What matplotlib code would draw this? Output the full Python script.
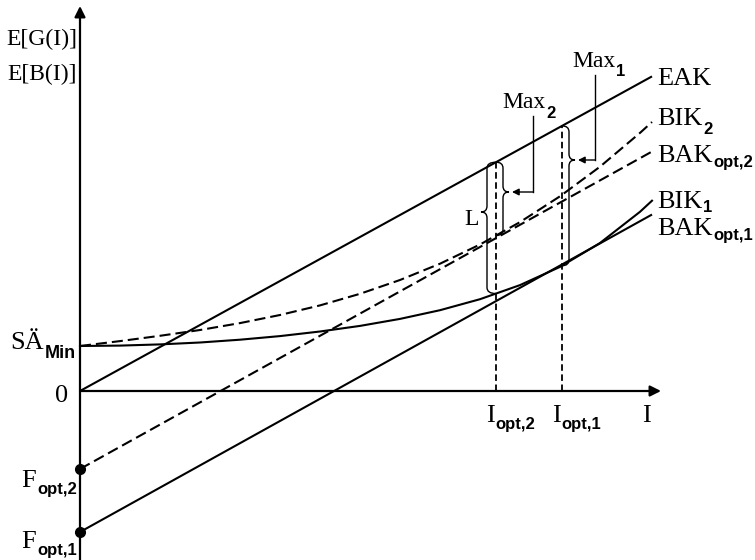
import numpy as np
import matplotlib
matplotlib.use('Agg')
import matplotlib.pyplot as plt
from matplotlib.path import Path
from matplotlib.patches import PathPatch

# ---------------- data (abstract units) ----------------
sa_min = 45            # SÄ_Min : starting level of both BIK curves
f_opt_1 = -141         # F_opt,1 : intercept of BAK_opt,1
f_opt_2 = -78          # F_opt,2 : intercept of BAK_opt,2
eak_slope = 0.55       # EAK through the origin
bak_slope = 0.555      # BAK_opt lines (parallel to EAK)
i_opt_1 = 482
i_opt_2 = 416
i_max = 572

curve_x = [0, 40, 80, 120, 160, 200, 240, 280, 320, 360, 400, 440, 480, 520, 560, 572]
bik1_y = [45, 45.4, 46.6, 48.5, 51.3, 54.9, 59.5, 65.1, 72.1, 80.8, 91.8, 105.9, 124.1, 148.0, 179.2, 190.3]
bik2_y = [45, 49.9, 55.2, 61.0, 67.9, 76.0, 85.6, 97.2, 111.0, 127.3, 146.5, 168.9, 194.7, 224.3, 258.1, 269.0]

# ---------------- figure (1 data unit = 1 pixel) ----------------
W, H = 755, 560
OX, OY = 80, 391          # pixel position of the origin (from top-left)
fig = plt.figure(figsize=(W / 100, H / 100), dpi=100)
ax = fig.add_axes([0, 0, 1, 1])
ax.set_xlim(-OX, W - OX)
ax.set_ylim(OY - H, OY)
ax.axis('off')

SERIF = ['Liberation Serif', 'DejaVu Serif']
SANS = ['Liberation Sans', 'DejaVu Sans']
K = 'black'


def P(px, py):
    return px - OX, OY - py


# axes with arrows
ax.annotate('', xy=P(661, OY), xytext=P(OX, OY),
            arrowprops=dict(arrowstyle='-|>', lw=1.6, color=K, mutation_scale=16,
                            shrinkA=0, shrinkB=0))
ax.annotate('', xy=P(OX, 6), xytext=P(OX, H + 2),
            arrowprops=dict(arrowstyle='-|>', lw=1.6, color=K, mutation_scale=16,
                            shrinkA=0, shrinkB=0))

# straight lines
xl = np.array([0, i_max])
ax.plot(xl, eak_slope * xl, color=K, lw=1.5, solid_capstyle='butt')
ax.plot(xl, f_opt_1 + bak_slope * xl, color=K, lw=1.5, solid_capstyle='butt')
ax.plot(xl, f_opt_2 + bak_slope * xl, color=K, lw=1.5, dashes=(5.3, 2.4))

# curves
ax.plot(curve_x, bik1_y, color=K, lw=1.5)
ax.plot(curve_x, bik2_y, color=K, lw=1.5, dashes=(5.3, 2.4))

# dots on the vertical axis
ax.plot([0, 0], [f_opt_2, f_opt_1], 'o', color=K, ms=7)

# vertical dashed lines at the optima
for io in (i_opt_1, i_opt_2):
    ax.plot([io, io], [0, eak_slope * io], color=K, lw=1.3, dashes=(3.6, 2.0))


def brace(xv, xanchor, ytop, ybot, ytip, side, w=6, r=6, lw=1.0):
    s = side
    verts = [(xanchor, ytop), (xv, ytop), (xv, ytop - r),
             (xv, ytip + r),
             (xv, ytip), (xv + s * w, ytip),
             (xv, ytip), (xv, ytip - r),
             (xv, ybot + r),
             (xv, ybot), (xanchor, ybot)]
    codes = [Path.MOVETO, Path.CURVE3, Path.CURVE3, Path.LINETO,
             Path.CURVE3, Path.CURVE3, Path.CURVE3, Path.CURVE3,
             Path.LINETO, Path.CURVE3, Path.CURVE3]
    ax.add_patch(PathPatch(Path(verts, codes), fill=False, lw=lw, color=K))


eak2 = eak_slope * i_opt_2
eak1 = eak_slope * i_opt_1
bik1_at2 = np.interp(i_opt_2, curve_x, bik1_y)
bik2_at2 = np.interp(i_opt_2, curve_x, bik2_y)
bik1_at1 = np.interp(i_opt_1, curve_x, bik1_y)

# L brace (left of I_opt,2)
brace(i_opt_2 - 9, i_opt_2, eak2, bik1_at2, OY - 212, -1)
# Max_2 brace (right of I_opt,2)
brace(i_opt_2 + 7, i_opt_2, eak2, bik2_at2, OY - 192, +1)
# Max_1 brace (right of I_opt,1)
brace(i_opt_1 + 7, i_opt_1, eak1, bik1_at1, OY - 160, +1)

# arrows from Max labels
ax.plot(*zip(P(533, 116), P(533, 192)), color=K, lw=1.0)
ax.annotate('', xy=P(512, 192), xytext=P(533, 192),
            arrowprops=dict(arrowstyle='-|>', lw=1.0, color=K, mutation_scale=10,
                            shrinkA=0, shrinkB=0))
ax.plot(*zip(P(595, 75), P(595, 160)), color=K, lw=1.0)
ax.annotate('', xy=P(578, 160), xytext=P(595, 160),
            arrowprops=dict(arrowstyle='-|>', lw=1.0, color=K, mutation_scale=10,
                            shrinkA=0, shrinkB=0))

# ---------------- labels ----------------
renderer = fig.canvas.get_renderer()


def label(px, py, main, sub=None, sub_py=None, size=19, subsize=12, ha='left', gap=1):
    x, y = P(px, py)
    t = ax.text(x, y, main, fontsize=size, family=SERIF, ha='left', va='baseline', color=K)
    items = [t]
    bb = t.get_window_extent(renderer)
    right = bb.x1
    if sub:
        xs = bb.x1 + gap - OX
        ys = OY - sub_py
        s = ax.text(xs, ys, sub, fontsize=subsize, family=SANS, weight='bold',
                    ha='left', va='baseline', color=K)
        items.append(s)
        right = s.get_window_extent(renderer).x1
    if ha == 'right':
        shift = px - right
        for it in items:
            xx, yy = it.get_position()
            it.set_position((xx + shift, yy))


label(77, 45, 'E[G(I)]', size=17, ha='right')
label(77, 80, 'E[B(I)]', size=17, ha='right')
label(76, 349, 'SÄ', 'Min', 358, subsize=13, ha='right')
label(68, 402, '0', ha='right')
label(77, 487, 'F', 'opt,2', 494, ha='right')
label(77, 548, 'F', 'opt,1', 555, ha='right')

label(486, 422, 'I', 'opt,2', 429)
label(552, 422, 'I', 'opt,1', 429)
label(642, 422, 'I')

label(657, 85, 'EAK')
label(657, 125, 'BIK', '2', 134)
label(657, 162, 'BAK', 'opt,2', 167)
label(657, 208, 'BIK', '1', 212)
label(657, 235, 'BAK', 'opt,1', 240)

label(572, 67, 'Max', '1', 76, size=17)
label(502, 108, 'Max', '2', 118, size=17)
label(464, 225, 'L', size=17)

fig.savefig('out.png', dpi=100)
